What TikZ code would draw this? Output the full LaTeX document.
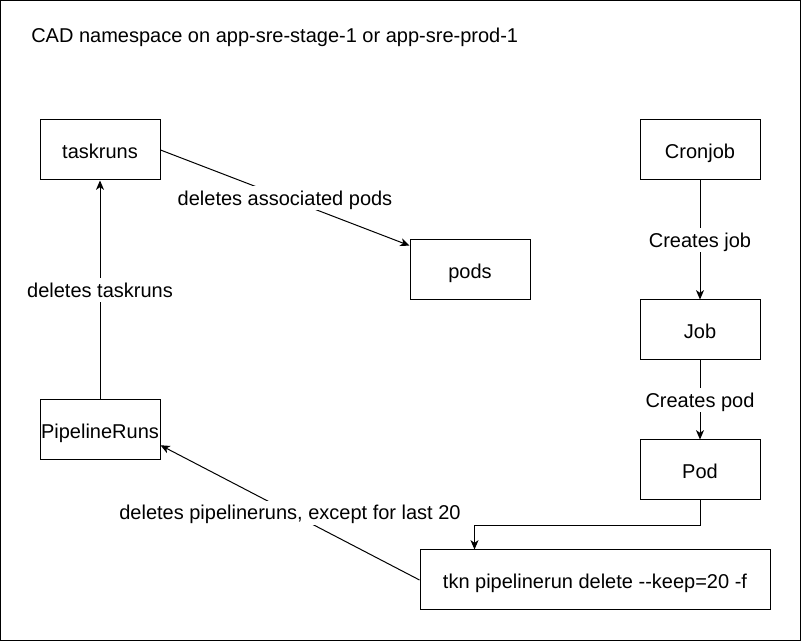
\documentclass[tikz,border=0pt]{standalone}
\usepackage{fontspec}
\setmainfont{Liberation Sans}[Ligatures=NoCommon]
\usetikzlibrary{arrows.meta,calc}
\begin{document}
\begin{tikzpicture}[x=0.75pt,y=-0.75pt,
  every node/.style={font=\fontsize{15pt}{18pt}\selectfont, text=black},
  box/.style={draw=black, line width=0.75pt, rectangle, minimum width=90pt, minimum height=45pt, inner sep=0pt, text height=12.5pt, text depth=0pt},
  conn/.style={draw=black, line width=0.75pt, -{Stealth[length=7pt,width=6pt,inset=2pt]}},
  lbl/.style={fill=white, inner sep=1.5pt, text height=13pt, text depth=2pt}]
\useasboundingbox (0,0) rectangle (801,641);
\draw[line width=0.75pt] (0.5,0.5) rectangle (800.5,640.5);
\node[anchor=base west, inner sep=0pt] (title) at (31,43) {CAD namespace on app-sre-stage-1 or app-sre-prod-1};
\node[box] (taskruns) at (100,150) {taskruns};
\node[box] (pods) at (470,270) {pods};
\node[box] (cron) at (700,150) {Cronjob};
\node[box] (job) at (700,330) {Job};
\node[box] (pod) at (700,470) {Pod};
\node[box] (prun) at (100,430) {PipelineRuns};
\node[box, minimum width=262.5pt] (tkn) at (595,580) {tkn pipelinerun delete -{}-keep=20 -f};
\coordinate (podsin) at ($(pods.north west)!0.1!(pods.south west)$);
\coordinate (prunin) at ($(prun.north east)!0.75!(prun.south east)$);
\draw[conn] (taskruns.east) -- node[lbl] {deletes associated pods} (podsin);
\draw[conn] (prun.north) -- node[lbl] {deletes taskruns} (taskruns.south);
\draw[conn] (cron.south) -- node[lbl] {Creates job} (job.north);
\draw[conn] (job.south) -- node[lbl] {Creates pod} (pod.north);
\coordinate (tknin) at ($(tkn.north west)+(55,0)$);
\draw[conn] (pod.south) -- ++(0,25) -| (tknin);
\draw[conn] (tkn.west) -- node[lbl] {deletes pipelineruns, except for last 20} (prunin);
\end{tikzpicture}
\end{document}
